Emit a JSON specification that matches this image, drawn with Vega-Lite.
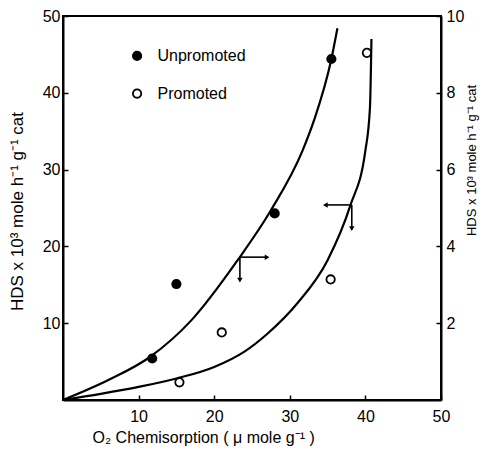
{
  "$schema": "https://vega.github.io/schema/vega-lite/v6.json",
  "autosize": "none",
  "width": 378,
  "height": 384,
  "padding": {"left": 63, "top": 16, "right": 40, "bottom": 52},
  "background": "white",
  "config": {
    "font": "Liberation Sans",
    "view": {"stroke": "black", "strokeWidth": 2},
    "axis": {
      "grid": false,
      "domainColor": "black",
      "domainWidth": 2,
      "tickColor": "black",
      "tickWidth": 1.5,
      "tickSize": -5,
      "labelColor": "black",
      "labelFont": "Liberation Sans",
      "labelFontSize": 16,
      "labelFlush": false,
      "labelOverlap": false,
      "titleColor": "black",
      "titleFont": "Liberation Sans",
      "titleFontWeight": "normal"
    }
  },
  "datasets": {
    "pts": [
      {"x": 11.8, "y": 5.4, "s": "Unpromoted"},
      {"x": 15.0, "y": 15.1, "s": "Unpromoted"},
      {"x": 28.0, "y": 24.3, "s": "Unpromoted"},
      {"x": 35.5, "y": 44.4, "s": "Unpromoted"},
      {"x": 15.4, "y": 2.3, "s": "Promoted"},
      {"x": 21.0, "y": 8.8, "s": "Promoted"},
      {"x": 35.4, "y": 15.7, "s": "Promoted"},
      {"x": 40.2, "y": 45.2, "s": "Promoted"}
    ],
    "curves": [
      {"x": 0, "y": 0, "s": "Unpromoted"},
      {"x": 6, "y": 2.6, "s": "Unpromoted"},
      {"x": 11.5, "y": 5.6, "s": "Unpromoted"},
      {"x": 17, "y": 10.4, "s": "Unpromoted"},
      {"x": 23.1, "y": 18.2, "s": "Unpromoted"},
      {"x": 27.5, "y": 24.7, "s": "Unpromoted"},
      {"x": 31.7, "y": 32.5, "s": "Unpromoted"},
      {"x": 33.2, "y": 36.4, "s": "Unpromoted"},
      {"x": 35.5, "y": 44.4, "s": "Unpromoted"},
      {"x": 36.3, "y": 48.4, "s": "Unpromoted"},
      {"x": 0, "y": 0, "s": "Promoted"},
      {"x": 5, "y": 0.8, "s": "Promoted"},
      {"x": 10, "y": 1.7, "s": "Promoted"},
      {"x": 15, "y": 2.8, "s": "Promoted"},
      {"x": 20, "y": 4.3, "s": "Promoted"},
      {"x": 24, "y": 6.3, "s": "Promoted"},
      {"x": 27, "y": 8.6, "s": "Promoted"},
      {"x": 31, "y": 12.6, "s": "Promoted"},
      {"x": 35, "y": 18.2, "s": "Promoted"},
      {"x": 38, "y": 25.3, "s": "Promoted"},
      {"x": 40, "y": 32.5, "s": "Promoted"},
      {"x": 40.6, "y": 38, "s": "Promoted"},
      {"x": 40.8, "y": 47, "s": "Promoted"}
    ],
    "arrows": [
      {"x": 23.4, "y": 18.6, "x2": 27.0, "y2": 18.6, "dir": "right"},
      {"x": 23.4, "y": 18.6, "x2": 23.4, "y2": 15.6, "dir": "down"},
      {"x": 38.2, "y": 25.4, "x2": 34.7, "y2": 25.4, "dir": "left"},
      {"x": 38.2, "y": 25.4, "x2": 38.2, "y2": 22.3, "dir": "down"}
    ],
    "legend": [
      {"x": 9.8, "y": 44.8, "tx": 12.5, "s": "Unpromoted", "label": "Unpromoted"},
      {"x": 9.8, "y": 39.9, "tx": 12.5, "s": "Promoted", "label": "Promoted"}
    ],
    "right": [{"r": 0}, {"r": 10}]
  },
  "layer": [
    {
      "layer": [
        {
          "data": {"name": "curves"},
          "mark": {"type": "line", "interpolate": "monotone", "color": "black", "strokeWidth": 2.2},
          "encoding": {
            "x": {
              "field": "x", "type": "quantitative",
              "scale": {"domain": [0, 50], "nice": false, "zero": true},
              "axis": {
                "values": [10, 20, 30, 40, 50],
                "labelPadding": 13,
                "title": "O₂ Chemisorption ( μ mole g⁻¹ )",
                "titleFontSize": 16,
                "titleAnchor": "start",
                "titleAlign": "left",
                "titleBaseline": "middle",
                "titleX": 29,
                "titleY": 37
              }
            },
            "y": {
              "field": "y", "type": "quantitative",
              "scale": {"domain": [0, 50], "nice": false},
              "axis": {
                "orient": "left",
                "values": [10, 20, 30, 40, 50],
                "labelPadding": 8,
                "title": "HDS  x  10³  mole  h⁻¹  g⁻¹  cat",
                "titleFontSize": 17,
                "titleAngle": -90,
                "titleBaseline": "middle",
                "titleX": -46,
                "titleY": 195
              }
            },
            "detail": {"field": "s"}
          }
        },
        {
          "data": {"name": "arrows"},
          "mark": {"type": "rule", "color": "black", "strokeWidth": 1.6},
          "encoding": {
            "x": {"field": "x", "type": "quantitative"},
            "y": {"field": "y", "type": "quantitative"},
            "x2": {"field": "x2"},
            "y2": {"field": "y2"}
          }
        },
        {
          "data": {"name": "arrows"},
          "mark": {"type": "point", "filled": true, "color": "black", "size": 30, "opacity": 1},
          "encoding": {
            "x": {"field": "x2", "type": "quantitative"},
            "y": {"field": "y2", "type": "quantitative"},
            "shape": {
              "field": "dir", "type": "nominal",
              "scale": {"domain": ["right", "down", "left"], "range": ["triangle-right", "triangle-down", "triangle-left"]},
              "legend": null
            }
          }
        },
        {
          "data": {"name": "pts"},
          "mark": {"type": "point", "shape": "circle", "size": 70, "strokeWidth": 1.8, "stroke": "black", "opacity": 1},
          "encoding": {
            "x": {"field": "x", "type": "quantitative"},
            "y": {"field": "y", "type": "quantitative"},
            "fill": {
              "field": "s", "type": "nominal",
              "scale": {"domain": ["Unpromoted", "Promoted"], "range": ["black", "white"]},
              "legend": null
            }
          }
        },
        {
          "data": {"name": "legend"},
          "mark": {"type": "point", "shape": "circle", "size": 70, "strokeWidth": 1.8, "stroke": "black", "opacity": 1},
          "encoding": {
            "x": {"field": "x", "type": "quantitative"},
            "y": {"field": "y", "type": "quantitative"},
            "fill": {"field": "s", "type": "nominal", "legend": null}
          }
        },
        {
          "data": {"name": "legend"},
          "mark": {"type": "text", "align": "left", "baseline": "middle", "fontSize": 16, "font": "Liberation Sans", "color": "black"},
          "encoding": {
            "x": {"field": "tx", "type": "quantitative"},
            "y": {"field": "y", "type": "quantitative"},
            "text": {"field": "label"}
          }
        }
      ]
    },
    {
      "data": {"name": "right"},
      "mark": {"type": "point", "opacity": 0},
      "encoding": {
        "y": {
          "field": "r", "type": "quantitative",
          "scale": {"domain": [0, 10], "nice": false},
          "axis": {
            "orient": "right",
            "values": [2, 4, 6, 8, 10],
            "labelPadding": 10,
            "title": "HDS x 10³ mole h⁻¹ g⁻¹ cat",
            "titleFontSize": 13,
            "titleAngle": -90,
            "titleBaseline": "middle",
            "titleX": 30,
            "titleY": 144
          }
        }
      }
    }
  ],
  "resolve": {"scale": {"y": "independent"}}
}
